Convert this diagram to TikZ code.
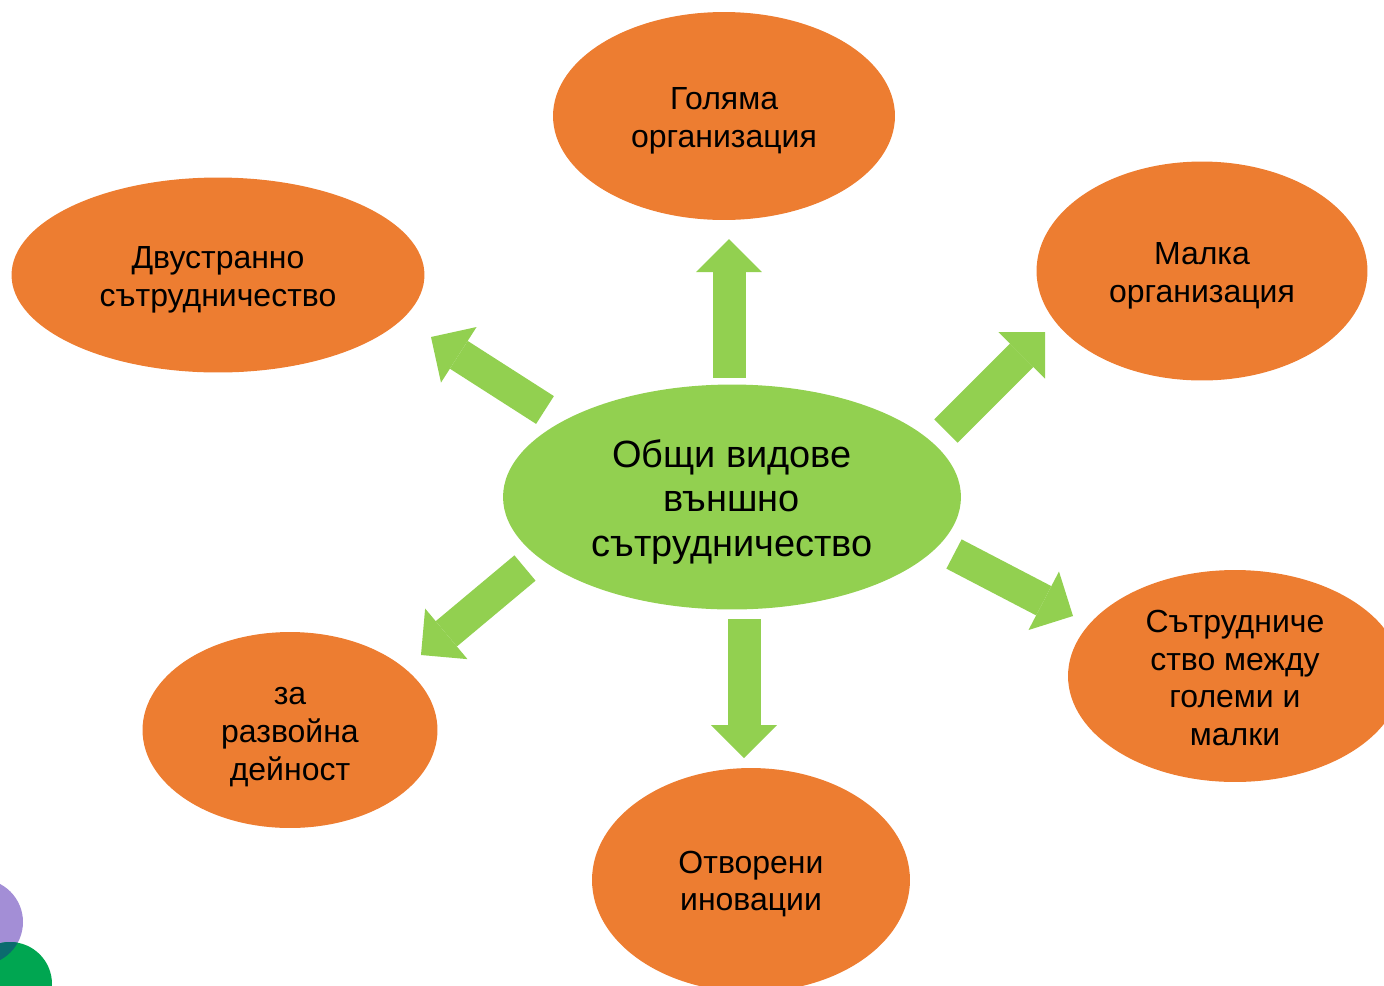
\documentclass[tikz,border=0pt]{standalone}
\usepackage{fontspec}
\setmainfont{Liberation Sans}
\usetikzlibrary{shapes.geometric,arrows.meta}
\definecolor{orangefill}{HTML}{ED7D31}
\definecolor{greenfill}{HTML}{92D050}
\definecolor{dotpurple}{HTML}{A38ED6}
\definecolor{dotgreen}{HTML}{00A651}
\definecolor{dotteal}{HTML}{0B6B6E}
\tikzset{
  kind/.style={ellipse, fill=orangefill, inner sep=0pt},
  hub/.style={ellipse, fill=greenfill, inner sep=0pt},
  kindtext/.style={align=center, inner sep=0pt,
    font=\fontsize{18.2}{21.6}\selectfont},
  hubtext/.style={align=center, inner sep=0pt,
    font=\fontsize{21.6}{25.6}\selectfont},
  blockarrow/.style={draw=greenfill, line width=0.66cm, line cap=butt,
    -{Triangle[length=0.66cm,width=1.32cm,line width=0pt]}}
}
\begin{document}
\begin{tikzpicture}[x=0.02cm, y=-0.02cm]
  \useasboundingbox (0,0) rectangle (1384,985);

  % centre and the six kinds
  \node[hub, minimum width=9.16cm, minimum height=4.5cm] (hub) at (732,497) {};
  \node[kind, minimum width=6.84cm, minimum height=4.16cm] (large) at (724,116) {};
  \node[kind, minimum width=6.62cm, minimum height=4.38cm] (small) at (1202,271) {};
  \node[kind, minimum width=8.26cm, minimum height=3.9cm] (bilateral) at (218,275) {};
  \node[kind, minimum width=6.68cm, minimum height=4.24cm] (mixed) at (1235,676) {};
  \node[kind, minimum width=5.9cm, minimum height=3.92cm] (research) at (290,730) {};
  \node[kind, minimum width=6.36cm, minimum height=4.48cm] (open) at (751,880) {};

  % texts
  \node[hubtext] (hubT) at (732,502) {Общи видове\\външно\\сътрудничество};
  \node[kindtext] (largeT) at (724,121) {Голяма\\организация};
  \node[kindtext] (smallT) at (1202,276) {Малка\\организация};
  \node[kindtext] (bilateralT) at (218,280) {Двустранно\\сътрудничество};
  \node[kindtext] (mixedT) at (1235,678) {Сътрудниче\\ство между\\големи и\\малки};
  \node[kindtext] (researchT) at (290,737) {за\\развойна\\дейност};
  \node[kindtext] (openT) at (751,884) {Отворени\\иновации};

  % arrow ends
  \coordinate (upS) at (729,378);   \coordinate (upE) at (729,239);
  \coordinate (dnS) at (744,619);   \coordinate (dnE) at (744,758);
  \coordinate (ulS) at (545,410);   \coordinate (ulE) at (431,337);
  \coordinate (urS) at (946,431);   \coordinate (urE) at (1045,332);
  \coordinate (llS) at (525,568);   \coordinate (llE) at (421,655);
  \coordinate (lrS) at (954,554);   \coordinate (lrE) at (1073,616);

  \draw[blockarrow] (upS) -- (upE);
  \draw[blockarrow] (dnS) -- (dnE);
  \draw[blockarrow] (ulS) -- (ulE);
  \draw[blockarrow] (urS) -- (urE);
  \draw[blockarrow] (llS) -- (llE);
  \draw[blockarrow] (lrS) -- (lrE);

  % corner dots
  \fill[dotpurple] (-20,922) circle (43);
  \fill[dotgreen] (10,984) circle (42);
  \begin{scope}
    \clip (-20,922) circle (43);
    \fill[dotteal] (10,984) circle (42);
  \end{scope}
\end{tikzpicture}
\end{document}
